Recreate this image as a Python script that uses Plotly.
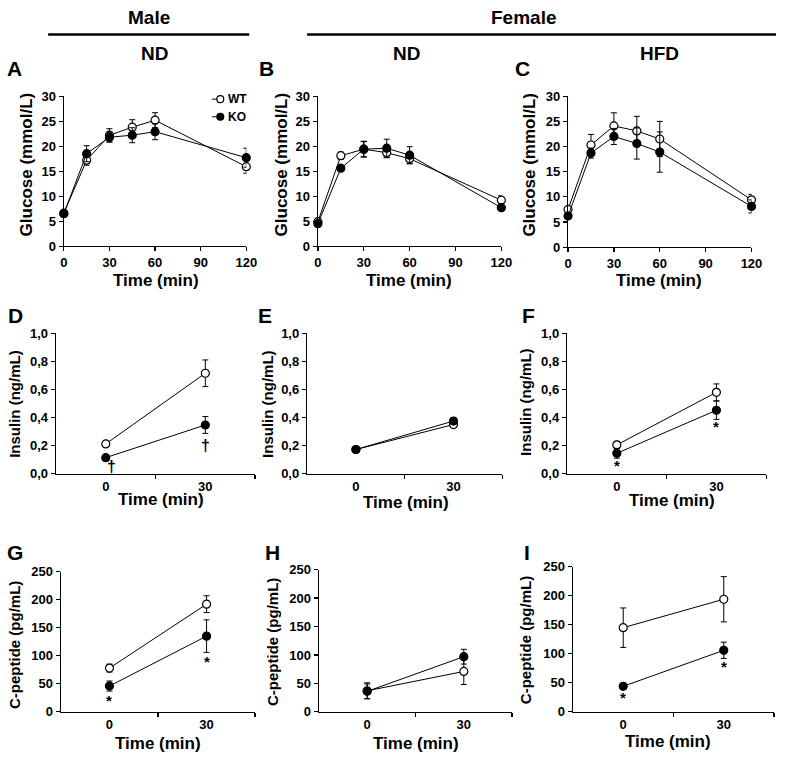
import plotly.graph_objects as go

# ---------------- data ----------------
time_glucose = [0, 15, 30, 45, 60, 120]
time_short = [0, 30]

# A: Male ND glucose
glu_male_nd_wt = [6.6, 17.2, 22.2, 23.8, 25.2, 15.9]
glu_male_nd_wt_err = [0.5, 1.0, 1.3, 1.5, 1.5, 1.3]
glu_male_nd_ko = [6.5, 18.5, 21.8, 22.2, 22.9, 17.7]
glu_male_nd_ko_err = [0.5, 1.6, 1.0, 1.5, 1.6, 1.9]

# B: Female ND glucose
glu_fem_nd_wt = [4.9, 18.1, 19.4, 18.7, 17.5, 9.2]
glu_fem_nd_wt_err = [0.5, 0.7, 1.5, 1.0, 1.0, 0.9]
glu_fem_nd_ko = [4.5, 15.6, 19.4, 19.6, 18.2, 7.7]
glu_fem_nd_ko_err = [0.5, 0.5, 1.6, 1.8, 1.7, 0.5]

# C: Female HFD glucose
glu_fem_hfd_wt = [7.5, 20.3, 24.1, 23.1, 21.5, 9.4]
glu_fem_hfd_wt_err = [0.5, 2.1, 2.6, 2.9, 3.5, 1.1]
glu_fem_hfd_ko = [6.2, 18.7, 22.0, 20.6, 18.9, 8.1]
glu_fem_hfd_ko_err = [0.5, 1.0, 1.6, 3.1, 4.0, 1.3]

# D-F: insulin
ins_male_nd_wt = [0.212, 0.716]
ins_male_nd_wt_err = [0.015, 0.095]
ins_male_nd_ko = [0.114, 0.347]
ins_male_nd_ko_err = [0.015, 0.06]

ins_fem_nd_wt = [0.172, 0.35]
ins_fem_nd_wt_err = [0.012, 0.02]
ins_fem_nd_ko = [0.172, 0.375]
ins_fem_nd_ko_err = [0.012, 0.02]

ins_fem_hfd_wt = [0.205, 0.58]
ins_fem_hfd_wt_err = [0.025, 0.06]
ins_fem_hfd_ko = [0.145, 0.452]
ins_fem_hfd_ko_err = [0.035, 0.065]

# G-I: C-peptide
cp_male_nd_wt = [78, 192]
cp_male_nd_wt_err = [7, 15]
cp_male_nd_ko = [46, 135]
cp_male_nd_ko_err = [9, 29]

cp_fem_nd_wt = [37, 71]
cp_fem_nd_wt_err = [14, 23]
cp_fem_nd_ko = [36, 97]
cp_fem_nd_ko_err = [13, 13]

cp_fem_hfd_wt = [145, 194]
cp_fem_hfd_wt_err = [34, 39]
cp_fem_hfd_ko = [44, 106]
cp_fem_hfd_ko_err = [5, 14]

# significance marks (x, y, symbol)
sig_D_x, sig_D_y, sig_D_txt = [1.8, 30], [0.05, 0.2], ["†", "†"]
sig_F_x, sig_F_y, sig_F_txt = [0, 30], [0.06, 0.335], ["*", "*"]
sig_G_x, sig_G_y, sig_G_txt = [0, 30], [21, 90], ["*", "*"]
sig_I_x, sig_I_y, sig_I_txt = [0, 30], [25, 78], ["*", "*"]

glu_ticks = [0, 5, 10, 15, 20, 25, 30]
glu_xticks = [0, 30, 60, 90, 120]
ins_ticks = [0, 0.2, 0.4, 0.6, 0.8, 1.0]
ins_ticklabels = ["0,0", "0,2", "0,4", "0,6", "0,8", "1,0"]
cp_ticks = [0, 50, 100, 150, 200, 250]

# ---------------- layout helpers ----------------
W, H = 787, 761
def fx(p): return p / W
def fy(p): return 1 - p / H

FONT = "Liberation Sans, Arial, sans-serif"

panels = [
    dict(letter="A", box=(61, 247, 91, 244), t=time_glucose, wt=glu_male_nd_wt, wte=glu_male_nd_wt_err,
         ko=glu_male_nd_ko, koe=glu_male_nd_ko_err, kind="glu", lpos=(11, 63),
         ytitle="Glucose (mmol/L)", ytpos=(23, 161), xtpos=(155, 279), ysize=17),
    dict(letter="B", box=(320, 507, 91, 244), t=time_glucose, wt=glu_fem_nd_wt, wte=glu_fem_nd_wt_err,
         ko=glu_fem_nd_ko, koe=glu_fem_nd_ko_err, kind="glu", lpos=(268, 63),
         ytitle="Glucose (mmol/L)", ytpos=(283, 161), xtpos=(413, 279), ysize=17),
    dict(letter="C", box=(575, 762, 91, 245), t=time_glucose, wt=glu_fem_hfd_wt, wte=glu_fem_hfd_wt_err,
         ko=glu_fem_hfd_ko, koe=glu_fem_hfd_ko_err, kind="glu", lpos=(529, 63),
         ytitle="Glucose (mmol/L)", ytpos=(536, 161), xtpos=(668, 279), ysize=17),
    dict(letter="D", box=(53, 256, 333, 476), t=time_short, wt=ins_male_nd_wt, wte=ins_male_nd_wt_err,
         ko=ins_male_nd_ko, koe=ins_male_nd_ko_err, kind="ins", lpos=(12, 315),
         ytitle="Insulin (ng/mL)", ytpos=(10, 405), xtpos=(160, 502), ysize=15,
         sig=(sig_D_x, sig_D_y, sig_D_txt)),
    dict(letter="E", box=(309, 508, 333, 476), t=time_short, wt=ins_fem_nd_wt, wte=ins_fem_nd_wt_err,
         ko=ins_fem_nd_ko, koe=ins_fem_nd_ko_err, kind="ins", lpos=(266, 315),
         ytitle="Insulin (ng/mL)", ytpos=(268, 405), xtpos=(410, 505), ysize=15),
    dict(letter="F", box=(574, 777, 333, 476), t=time_short, wt=ins_fem_hfd_wt, wte=ins_fem_hfd_wt_err,
         ko=ins_fem_hfd_ko, koe=ins_fem_hfd_ko_err, kind="ins", lpos=(535, 315),
         ytitle="Insulin (ng/mL)", ytpos=(531, 403), xtpos=(681, 503), ysize=15,
         sig=(sig_F_x, sig_F_y, sig_F_txt)),
    dict(letter="G", box=(58, 256, 576, 719), t=time_short, wt=cp_male_nd_wt, wte=cp_male_nd_wt_err,
         ko=cp_male_nd_ko, koe=cp_male_nd_ko_err, kind="cp", lpos=(11, 556),
         ytitle="C-peptide (pg/mL)", ytpos=(10, 651), xtpos=(157, 751), ysize=15,
         sig=(sig_G_x, sig_G_y, sig_G_txt)),
    dict(letter="H", box=(321, 518, 574, 719), t=time_short, wt=cp_fem_nd_wt, wte=cp_fem_nd_wt_err,
         ko=cp_fem_nd_ko, koe=cp_fem_nd_ko_err, kind="cp", lpos=(274, 556),
         ytitle="C-peptide (pg/mL)", ytpos=(273, 648), xtpos=(420, 751), ysize=15),
    dict(letter="I", box=(580, 785, 571, 719), t=time_short, wt=cp_fem_hfd_wt, wte=cp_fem_hfd_wt_err,
         ko=cp_fem_hfd_ko, koe=cp_fem_hfd_ko_err, kind="cp", lpos=(533, 556),
         ytitle="C-peptide (pg/mL)", ytpos=(531, 646), xtpos=(677, 749), ysize=15,
         sig=(sig_I_x, sig_I_y, sig_I_txt)),
]

fig = go.Figure()
annotations = []
shapes = []
tickfont = dict(family=FONT, size=13, color="black", weight="bold")

for i, p in enumerate(panels, start=1):
    sfx = "" if i == 1 else str(i)
    xa, ya = "x" + sfx, "y" + sfx
    x0, x1, ytop, ybot = p["box"]

    fig.add_trace(go.Scatter(
        x=p["t"], y=p["wt"], mode="lines+markers", name="WT",
        error_y=dict(type="data", array=p["wte"], color="black", thickness=1, width=3),
        line=dict(color="black", width=1),
        marker=dict(symbol="circle", size=8, color="white", line=dict(color="black", width=1.2)),
        xaxis=xa, yaxis=ya, cliponaxis=False, showlegend=False))
    fig.add_trace(go.Scatter(
        x=p["t"], y=p["ko"], mode="lines+markers", name="KO",
        error_y=dict(type="data", array=p["koe"], color="black", thickness=1, width=3),
        line=dict(color="black", width=1),
        marker=dict(symbol="circle", size=8, color="black", line=dict(color="black", width=1.2)),
        xaxis=xa, yaxis=ya, cliponaxis=False, showlegend=False))

    common = dict(showline=True, linecolor="black", linewidth=1.3, showgrid=False, zeroline=False,
                  tickfont=tickfont, tickcolor="black", tickwidth=1.3, ticklen=4, ticks="outside")
    if p["kind"] == "glu":
        xaxis = dict(common, range=[0, 120], tickmode="array", tickvals=glu_xticks)
        yaxis = dict(common, range=[0, 30], tickmode="array", tickvals=glu_ticks)
    else:
        xaxis = dict(common, range=[-15, 45], tickmode="array", tickvals=time_short,
                     ticktext=[str(v) for v in time_short], ticks="",
                     minor=dict(tickmode="array", tickvals=[15, 45], ticks="outside",
                                ticklen=4, tickcolor="black", tickwidth=1.3, showgrid=False))
        if p["kind"] == "ins":
            yaxis = dict(common, range=[0, 1.0], tickmode="array", tickvals=ins_ticks,
                         ticktext=ins_ticklabels)
        else:
            yaxis = dict(common, range=[0, 250], tickmode="array", tickvals=cp_ticks)
    xaxis.update(domain=[fx(x0), fx(x1)], anchor=ya)
    yaxis.update(domain=[fy(ybot), fy(ytop)], anchor=xa)
    fig.layout["xaxis" + sfx] = xaxis
    fig.layout["yaxis" + sfx] = yaxis

    # panel letter
    lx, ly = p["lpos"]
    annotations.append(dict(text=p["letter"], x=fx(lx), y=fy(ly), xref="paper", yref="paper",
                            showarrow=False, xanchor="center", yanchor="middle",
                            font=dict(family=FONT, size=21, color="black", weight="bold")))
    # axis titles
    tx, ty = p["ytpos"]
    annotations.append(dict(text=p["ytitle"], x=fx(tx), y=fy(ty), xref="paper", yref="paper",
                            showarrow=False, textangle=-90, xanchor="center", yanchor="middle",
                            font=dict(family=FONT, size=p["ysize"], color="black", weight="bold")))
    tx, ty = p["xtpos"]
    annotations.append(dict(text="Time (min)", x=fx(tx), y=fy(ty), xref="paper", yref="paper",
                            showarrow=False, xanchor="center", yanchor="middle",
                            font=dict(family=FONT, size=17, color="black", weight="bold")))
    # significance marks
    if "sig" in p:
        sx, sy, st = p["sig"]
        for a, b, c in zip(sx, sy, st):
            annotations.append(dict(text=c, x=a, y=b, xref=xa, yref=ya, showarrow=False,
                                    xanchor="center", yanchor="middle",
                                    font=dict(family=FONT, size=16 if c == "†" else 15,
                                              color="black", weight="bold")))

# header
for txt, x, y in [("Male", 148, 11), ("Female", 530, 11), ("ND", 153, 47), ("ND", 410, 47), ("HFD", 668, 47)]:
    annotations.append(dict(text=txt, x=fx(x), y=fy(y), xref="paper", yref="paper", showarrow=False,
                            xanchor="center", yanchor="middle",
                            font=dict(family=FONT, size=19, color="black", weight="bold")))
shapes.append(dict(type="line", xref="paper", yref="paper", x0=fx(45), x1=fx(250), y0=fy(28), y1=fy(28),
                   line=dict(color="black", width=2.5)))
shapes.append(dict(type="line", xref="paper", yref="paper", x0=fx(309), x1=fx(787), y0=fy(28), y1=fy(28),
                   line=dict(color="black", width=2.5)))

# legend (panel A)
for name, yy, fill in [("WT", 94, "white"), ("KO", 112, "black")]:
    shapes.append(dict(type="line", xref="paper", yref="paper", x0=fx(212), x1=fx(218), y0=fy(yy), y1=fy(yy),
                       line=dict(color="black", width=1)))
    shapes.append(dict(type="circle", xref="paper", yref="paper", x0=fx(217), x1=fx(224),
                       y0=fy(yy + 3.5), y1=fy(yy - 3.5), fillcolor=fill, line=dict(color="black", width=1.2)))
    annotations.append(dict(text=name, x=fx(226), y=fy(yy), xref="paper", yref="paper", showarrow=False,
                            xanchor="left", yanchor="middle",
                            font=dict(family=FONT, size=12, color="black", weight="bold")))

fig.update_layout(width=W, height=H, margin=dict(l=0, r=0, t=0, b=0),
                  paper_bgcolor="white", plot_bgcolor="white",
                  annotations=annotations, shapes=shapes, showlegend=False)

fig.write_html("out.html", config={"displayModeBar": False, "staticPlot": True},
               post_script="document.body.style.margin='0';document.body.style.padding='0';"
                           "document.documentElement.style.overflow='hidden';")
